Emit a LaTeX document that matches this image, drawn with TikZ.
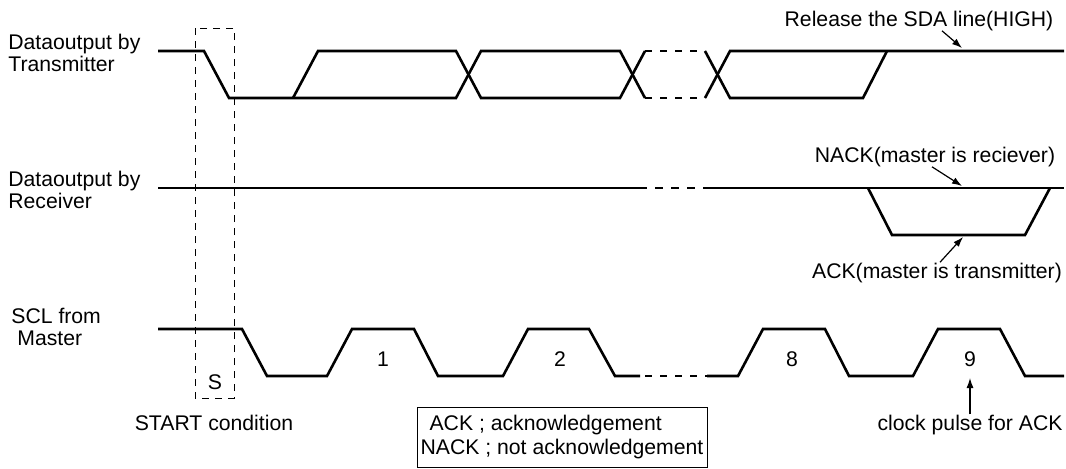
\documentclass[tikz,border=0pt]{standalone}
\usepackage{fontspec}
\setmainfont{Liberation Sans}
\usetikzlibrary{arrows.meta}

\begin{document}
\begin{tikzpicture}[
    x=0.5pt, y=-0.5pt,
    font=\fontsize{10.6}{11}\selectfont,
    wave/.style={line width=1.3pt, line join=miter},
    dashwave/.style={wave, dash pattern=on 3.5pt off 4pt},
    startbox/.style={line width=0.5pt, dash pattern=on 3.5pt off 3pt},
    line/.style={draw, line width=0.6pt, -{Latex[length=5pt, width=3.5pt]}},
    siglabel/.style={inner sep=0pt, align=left, anchor=north west},
    note/.style={inner sep=0pt, anchor=base},
    legend/.style={draw, line width=0.5pt, align=left, minimum width=145pt, minimum height=30pt, inner xsep=1pt, font=\fontsize{10.6}{12}\selectfont}
]
\useasboundingbox (0,0) rectangle (1066,468);

% Signal names
\node[siglabel] (tx_name) at (8,34) {Dataoutput by\\Transmitter};
\node[siglabel] (rx_name) at (8,171) {Dataoutput by\\Receiver};
\node[siglabel] (scl_name) at (11,308) {SCL from\\\hspace*{3pt}Master};

% SDA from the transmitter
\draw[wave] (158,51) -- (204,51) -- (229,98) -- (456,98) -- (481,51) -- (620,51) -- (645,98);
\draw[wave] (293,98) -- (318,51) -- (456,51) -- (481,98) -- (620,98) -- (645,51);
\draw[dashwave] (645,51) -- (705,51);
\draw[dashwave] (645,98) -- (705,98);
\draw[wave] (705,51) -- (730,98) -- (863,98) -- (887,51);
\draw[wave] (705,98) -- (730,51) -- (1064,51);

% SDA from the receiver
\draw[wave] (158,188) -- (647,188);
\draw[wave, dash pattern=on 4pt off 4pt, dash phase=4pt] (647,188) -- (703,188);
\draw[wave] (703,188) -- (1064,188);
\draw[wave] (868,188) -- (892,235) -- (1025,235) -- (1050,188);

% SCL from the master
\draw[wave] (158,329) -- (242,329) -- (267,376) -- (327,376) -- (352,329) -- (414,329) -- (438,376)
    -- (503,376) -- (528,329) -- (589,329) -- (615,376) -- (640,376);
\draw[dashwave, dash phase=5pt] (640,376) -- (707,376);
\draw[wave] (707,376) -- (738,376) -- (763,329) -- (825,329) -- (849,376) -- (913,376) -- (938,329)
    -- (1000,329) -- (1025,376) -- (1064,376);

% START condition
\draw[startbox] (195,28) rectangle (234,398);
\node[note] (s_mark) at (215,389) {S};
\node[note] (start_note) at (214,430) {START condition};

% Clock pulse numbers
\node[note] (bit1) at (383,366) {1};
\node[note] (bit2) at (560,366) {2};
\node[note] (bit8) at (792,366) {8};
\node[note] (bit9) at (970,366) {9};

% Annotations
\node[note] (release) at (919,26) {Release the SDA line(HIGH)};
\node[note] (nack) at (935,162) {NACK(master is reciever)};
\node[note] (ack) at (937,278) {ACK(master is transmitter)};
\node[note] (clk_note) at (970,430) {clock pulse for ACK};

\coordinate (sda_free) at (962,48);
\coordinate (rx_high) at (962,186);
\coordinate (rx_low) at (963,237);
\coordinate (ack_clk) at (970,378);

\path[line] ([xshift=11.5pt]release.south) -- (sda_free);
\path[line] ([xshift=-1.5pt]nack.south) -- (rx_high);
\path[line] ([xshift=1.5pt]ack.north) -- (rx_low);
\path[line] (clk_note.north) -- (ack_clk);

% Legend
\node[legend] (legend) at (562,437) {\hspace*{4.5pt}ACK ; acknowledgement\\NACK ; not acknowledgement};

\end{tikzpicture}
\end{document}
